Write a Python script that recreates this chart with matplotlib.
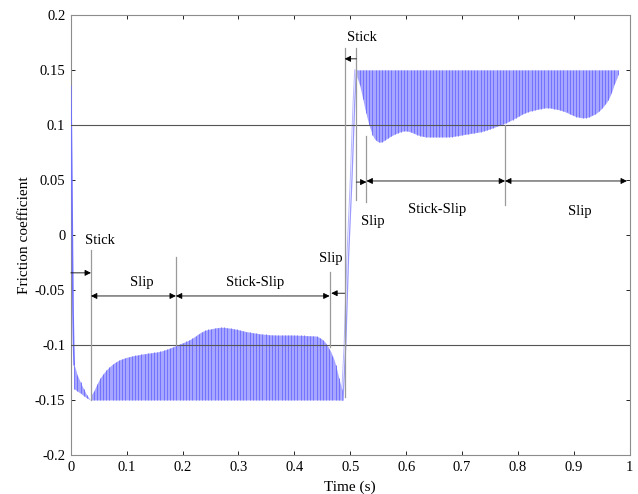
import matplotlib
matplotlib.use("Agg")
import matplotlib.pyplot as plt
import numpy as np

plt.rcParams["font.family"] = ["Liberation Serif", "DejaVu Serif"]

# start-up transient (single line)
START_T = [0.0, 0.001, 0.002, 0.003, 0.004, 0.005, 0.006]
START_Y = [0.135, 0.09, 0.04, -0.02, -0.07, -0.10, -0.118]

# early band before the first stick point
EARLY_T = [0.006, 0.012, 0.020, 0.028, 0.035]
EARLY_UP = [-0.118, -0.128, -0.137, -0.145, -0.150]
EARLY_LO = [-0.140, -0.142, -0.145, -0.148, -0.150]

# negative band: bottom fixed, top envelope
NEG_T = [0.035, 0.045, 0.06, 0.08, 0.10, 0.13, 0.16, 0.177, 0.19, 0.213,
         0.236, 0.267, 0.29, 0.315, 0.34, 0.362, 0.40, 0.445, 0.463, 0.478,
         0.487]
NEG_UP = [-0.150, -0.136, -0.124, -0.115, -0.111, -0.108, -0.106, -0.103,
          -0.100, -0.0955, -0.087, -0.0836, -0.085, -0.088, -0.090, -0.091,
          -0.091, -0.092, -0.102, -0.123, -0.150]
NEG_LO = -0.15

# jump from the negative to the positive band
JUMP_T = [0.487, 0.492, 0.497, 0.503, 0.508, 0.511]
JUMP_Y = [-0.150, -0.100, -0.020, 0.050, 0.120, 0.150]

# positive band: top fixed, bottom envelope
POS_T = [0.511, 0.522, 0.535, 0.549, 0.576, 0.598, 0.63, 0.678, 0.737,
         0.78, 0.816, 0.852, 0.88, 0.905, 0.923, 0.946, 0.968, 0.979]
POS_LO = [0.150, 0.1245, 0.094, 0.082, 0.091, 0.0955, 0.089, 0.089, 0.094,
          0.102, 0.112, 0.116, 0.113, 0.107, 0.106, 0.112, 0.127, 0.150]
POS_UP = 0.15

# annotations: phase boundaries and labels
BOUNDS_NEG = [0.0, 0.036, 0.188, 0.463, 0.49]
BOUNDS_POS = [0.49, 0.511, 0.529, 0.777, 0.995]
LABELS_NEG = ["Stick", "Slip", "Stick-Slip", "Slip"]
LABELS_POS = ["Stick", "Slip", "Stick-Slip", "Slip"]

X_TICKS = [0, 0.1, 0.2, 0.3, 0.4, 0.5, 0.6, 0.7, 0.8, 0.9, 1]
X_TICKLABELS = ["0", "0.1", "0.2", "0.3", "0.4", "0.5", "0.6", "0.7", "0.8", "0.9", "1"]
Y_TICKS = [-0.2, -0.15, -0.1, -0.05, 0, 0.05, 0.1, 0.15, 0.2]
Y_TICKLABELS = ["-0.2", "-0.15", "-0.1", "-0.05", "0", "0.05", "0.1", "0.15", "0.2"]

FILL = "#a6a6ff"
LINE = "#6a6aff"
STEP = 0.0057


def smooth_env(tt, tk, vals, win=9):
    # linear interpolation of the read-off knots, then a light moving
    # average to round the corners (ends kept fixed)
    v = np.interp(tt, tk, vals)
    if np.ndim(vals) == 0 or len(set(vals)) == 1:
        return v
    k = np.ones(win) / win
    pad = np.pad(v, win // 2, mode="edge")
    s = np.convolve(pad, k, mode="valid")
    s[0], s[-1] = v[0], v[-1]
    return s


fig = plt.figure(figsize=(6.38, 4.94), dpi=100)
ax = fig.add_axes([0.111, 0.079, 0.876, 0.891])

# bands
for tk, up, lo in [(EARLY_T, EARLY_UP, EARLY_LO),
                   (NEG_T, NEG_UP, [NEG_LO] * len(NEG_T)),
                   (POS_T, [POS_UP] * len(POS_T), POS_LO)]:
    tt = np.linspace(tk[0], tk[-1], 600)
    u = smooth_env(tt, tk, up, 25)
    l = smooth_env(tt, tk, lo, 25)
    ax.fill_between(tt, l, u, color=FILL, lw=0, zorder=2)
    tv = np.arange(tk[0], tk[-1], STEP)
    ax.vlines(tv, np.interp(tv, tt, l), np.interp(tv, tt, u),
              color=LINE, lw=0.6, zorder=3)

ax.plot(START_T, START_Y, color="#7070ff", lw=1.2, zorder=3)
ax.plot(JUMP_T, JUMP_Y, color="#9a9aff", lw=0.9, zorder=3)
ax.plot(np.array(JUMP_T) - 0.003, JUMP_Y, color="#b8b8ff", lw=0.7, zorder=3)

# reference lines
for yv in (0.1, -0.1):
    ax.axhline(yv, color="#555555", lw=0.8, zorder=4)

GRAY = "#9a9a9a"
vl = dict(color=GRAY, lw=0.9, zorder=4)
# vertical boundary lines
ax.plot([0.036, 0.036], [-0.0136, -0.150], **vl)
ax.plot([0.188, 0.188], [-0.020, -0.100], **vl)
ax.plot([0.463, 0.463], [-0.0336, -0.102], **vl)
ax.plot([0.49, 0.49], [0.170, -0.147], **vl)
ax.plot([0.511, 0.511], [0.170, 0.032], **vl)
ax.plot([0.529, 0.529], [0.090, 0.030], **vl)
ax.plot([0.777, 0.777], [0.100, 0.027], **vl)


def arrow(x0, x1, y, style):
    ax.annotate("", xy=(x1, y), xytext=(x0, y),
                arrowprops=dict(arrowstyle=style, color="black", lw=0.6,
                                shrinkA=0, shrinkB=0,
                                mutation_scale=9), zorder=5)


ty = -0.0555
arrow(BOUNDS_NEG[0], BOUNDS_NEG[1], -0.0345, "-|>")
arrow(BOUNDS_NEG[1], BOUNDS_NEG[2], ty, "<|-|>")
arrow(BOUNDS_NEG[2], BOUNDS_NEG[3], ty, "<|-|>")
arrow(BOUNDS_NEG[4], BOUNDS_NEG[3] + 0.003, -0.053, "-|>")

arrow(BOUNDS_POS[1], BOUNDS_POS[0], 0.160, "-|>")
arrow(BOUNDS_POS[1], BOUNDS_POS[2], 0.048, "-|>")
arrow(BOUNDS_POS[2], BOUNDS_POS[3], 0.049, "<|-|>")
arrow(BOUNDS_POS[3], BOUNDS_POS[4], 0.049, "<|-|>")

tk = dict(ha="center", va="center", fontsize=10.5, zorder=6)
ax.text(0.052, -0.0055, LABELS_NEG[0], **tk)
ax.text(0.127, -0.043, LABELS_NEG[1], **tk)
ax.text(0.330, -0.043, LABELS_NEG[2], **tk)
ax.text(0.465, -0.021, LABELS_NEG[3], **tk)
ax.text(0.520, 0.179, LABELS_POS[0], **tk)
ax.text(0.540, 0.012, LABELS_POS[1], **tk)
ax.text(0.655, 0.0227, LABELS_POS[2], **tk)
ax.text(0.910, 0.021, LABELS_POS[3], **tk)

ax.set_xlim(0, 1)
ax.set_ylim(-0.2, 0.2)
ax.set_xticks(X_TICKS)
ax.set_xticklabels(X_TICKLABELS)
ax.set_yticks(Y_TICKS)
ax.set_yticklabels(Y_TICKLABELS)
ax.tick_params(direction="in", length=3, width=0.6, labelsize=10.5,
               top=True, right=True, pad=4)
for s in ax.spines.values():
    s.set_color("#8c8c8c")
    s.set_linewidth(0.8)
ax.set_xlabel("Time (s)", fontsize=11, labelpad=5)
ax.set_ylabel("Friction coefficient", fontsize=11, labelpad=3)

fig.savefig("out.png", dpi=100)
